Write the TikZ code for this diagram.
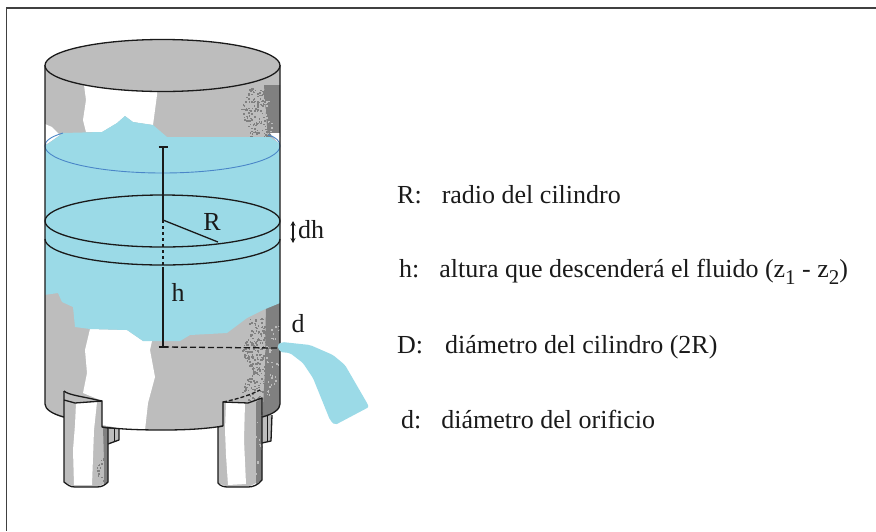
\documentclass[tikz,border=0pt]{standalone}
\usepackage{fontspec}
\setmainfont{Liberation Serif}
\usetikzlibrary{arrows.meta}
\definecolor{tankgray}{HTML}{BDBDBD}
\definecolor{tankdark}{HTML}{808080}
\definecolor{tankwater}{HTML}{9BDAE7}
\definecolor{waterline}{HTML}{4A86C8}
\definecolor{inkline}{HTML}{1A1A1A}
\tikzset{
  outline/.style={draw=inkline,line width=1.3pt,line join=round},
  legend/.style={anchor=base west,inner sep=0pt,font=\fontsize{26}{30}\selectfont,text=inkline},
  mark label/.style={anchor=base,inner sep=0pt,font=\fontsize{26}{30}\selectfont,text=inkline},
  frame line/.style={draw=black!75,line width=1.2pt},
}
\newcommand{\lowdigit}[1]{\raisebox{-7pt}{\fontsize{21}{21}\selectfont #1}}
\newcommand{\speckle}[5]{% x0 x1 y0 y1 count
  \foreach \n in {1,...,#5}{
    \pgfmathsetmacro{\sy}{#3+rnd*(#4-#3)}
    \pgfmathsetmacro{\sx}{#1+rnd*(#2-#1)+4*sin(\sy*9)}
    \fill[tankgray] (\sx,\sy) rectangle ++(1.6,1.6);
  }
}
\newcommand{\darkspeckle}[5]{%
  \foreach \n in {1,...,#5}{
    \pgfmathsetmacro{\sy}{#3+rnd*(#4-#3)}
    \pgfmathsetmacro{\sx}{#1+rnd*(#2-#1)+4*sin(\sy*9)}
    \fill[tankdark] (\sx,\sy) rectangle ++(1.6,1.6);
  }
}
\begin{document}
\begin{tikzpicture}[x=1pt,y=-1pt]
\pgfmathsetseed{7}
\useasboundingbox (0,0) rectangle (876,531);
\fill[white] (0,0) rectangle (876,531);
\coordinate (fTL) at (6.5,8);
\coordinate (fTR) at (876,8);
\coordinate (fBL) at (6.5,531);
\draw[frame line] (fTR) -- (fTL) -- (fBL);

% back legs
\fill[tankgray] (108,428) -- (119,428) -- (119,440) -- (108,444) -- cycle;
\fill[tankgray] (262,415) -- (272,415) -- (271,441) -- (262,443) -- cycle;
\draw[outline] (108,428) -- (119,428) -- (119,440) -- (108,444);
\draw[outline,line width=.6pt] (114,428) -- (114,441);
\draw[outline] (272,415) -- (271,441) -- (262,443);
\draw[outline,line width=.6pt] (267,416) -- (267,441);

% body
\begin{scope}
\clip (45,65) -- (45,404) arc[start angle=180,end angle=360,x radius=117.5pt,y radius=26pt] -- (280,65) -- cycle;
\fill[tankgray] (40,30) rectangle (285,440);
% dark shading
\fill[tankdark] (264,85) -- (285,85) -- (285,137) -- (268,137) -- (266,115) -- cycle;
\fill[tankdark] (266,300) -- (285,300) -- (285,425) -- (262,425) -- (265,370) -- cycle;
\darkspeckle{244}{266}{88}{137}{150}
\darkspeckle{246}{266}{318}{405}{260}
\speckle{266}{276}{322}{395}{40}
\speckle{264}{270}{95}{135}{25}
% white patches
\fill[white] (84,85) -- (86,100) -- (83,120) -- (86,132) -- (102,132) -- (117,123) -- (125,116) -- (133,122) -- (153,125) -- (157,95) -- (157,85) -- cycle;
\fill[white] (45,124) -- (52,127) -- (60,135) -- (50,142) -- (45,145) -- cycle;
\fill[white] (270,133) -- (280,133) -- (280,145) -- cycle;
\fill[white] (90,329) -- (85,350) -- (87,373) -- (83,393) -- (100,400) -- (102,425) -- (130,430) -- (145,430) -- (148,403) -- (155,377) -- (150,350) -- (152,341) -- (143,341) -- (127,330) -- cycle;
% water
\fill[tankwater] (45,146) -- (63,133) -- (102,132) -- (117,123) -- (125,116) -- (133,122) -- (153,125) -- (167,137) -- (270,137) -- (280,144) -- (280,303) -- (263,310) -- (247,318) -- (227,333) -- (190,335) -- (180,341) -- (143,341) -- (127,330) -- (90,329) -- (75,327) -- (73,307) -- (62,302) -- (58,293) -- (44,295) -- cycle;
\end{scope}
\draw[waterline,line width=.9pt] (63,133) .. controls (50,137) and (45,141) .. (45,146) arc[start angle=180,end angle=360,x radius=117.5pt,y radius=27pt] .. controls (280,141) and (276,137) .. (268,135);

% body outline
\draw[outline] (45,65) -- (45,404) .. controls (45,409) and (52,414) .. (64,417);
\draw[outline] (280,65) -- (280,404) .. controls (280,409) and (274,414) .. (262,417);
\draw[outline] (102,427) .. controls (120,429) and (135,430) .. (163,430) .. controls (185,430) and (205,429) .. (223,426);
\fill[tankgray,draw=inkline,line width=1.3pt] (162.5,65.5) ellipse [x radius=117.5pt,y radius=26pt];

% circles
\draw[outline] (162.5,221) ellipse [x radius=117.5pt,y radius=26pt];
\draw[outline] (45,239) arc[start angle=180,end angle=360,x radius=117.5pt,y radius=26pt];

% front legs
\fill[tankgray] (64,391) -- (97,400) -- (102,401) -- (102,427) -- (108,428) -- (108,482) -- (97,487) -- (75,487) -- (64,482) -- cycle;
\fill[white] (76,403) -- (97,402) -- (94,430) -- (92,485) -- (74,485) -- (73,450) -- (75,425) -- cycle;
\fill[tankdark] (103,428) -- (108,428) -- (108,482) -- (104,484) -- (104,460) -- cycle;
\darkspeckle{100}{104}{455}{480}{20}
\fill[tankgray] (218,427) -- (223,426) -- (223,402) -- (248,403) -- (262,398) -- (262,480) -- (248,487) -- (228,487) -- (218,483) -- cycle;
\fill[white] (226,403) -- (245,403) -- (244,440) -- (246,484) -- (228,485) -- (226,455) -- (225,430) -- cycle;
\fill[tankdark] (256,402) -- (262,398) -- (262,480) -- (256,484) -- cycle;
\speckle{256}{259}{410}{478}{22}
% left leg outline
\draw[outline] (64,391) -- (64,482) .. controls (68,485) and (70,487) .. (75,487) -- (97,487) .. controls (102,487) and (105,485) .. (108,482) -- (108,428) -- (102,427) -- (102,401) -- (75,403) -- (64,400);
\draw[outline] (64,391) .. controls (68,395) and (85,397) .. (97,400) -- (102,401);
% right leg outline
\draw[outline] (218,427) -- (223,426) -- (223,402) -- (248,403) -- (262,398) -- (262,480) .. controls (258,485) and (253,487) .. (248,487) -- (228,487) .. controls (224,487) and (220,486) .. (218,483) -- cycle;
\draw[outline,dashed,dash pattern=on 4pt off 2pt] (223,402) .. controls (238,399) and (250,395) .. (260,390);

% dimension lines
\coordinate (hTop) at (163,147);
\coordinate (hCentre) at (163,220);
\coordinate (hMid) at (163,267);
\coordinate (hBot) at (163,347);
\coordinate (hEnd) at (277,348);
\coordinate (rEnd) at (218,242);
\draw[draw=inkline,line width=2.2pt] (158.5,147) -- (167.5,147);
\draw[draw=inkline,line width=2.2pt] (158.5,347) -- (167.5,347);
\draw[outline] (hTop) -- (hCentre);
\draw[outline,dashed,dash pattern=on 3pt off 3pt] (hCentre) -- (hMid);
\draw[outline] (hMid) -- (hBot);
\draw[outline,dashed,dash pattern=on 6pt off 3pt] (hBot) -- (hEnd);
\draw[outline] (hCentre) -- (rEnd);

% stream
\fill[tankwater,rounded corners=2pt] (277,345) -- (282,342) -- (310,345) -- (333,355) -- (345,365) -- (367,403) -- (369,407) -- (335,425) -- (330,420) -- (313,378) -- (303,363) -- (290,353) -- (280,352) -- cycle;

% dh arrow
\coordinate (dhA) at (293,221);
\coordinate (dhB) at (293,243);
\draw[inkline,line width=1.2pt,{Stealth[length=5pt,width=5pt]}-{Stealth[length=5pt,width=5pt]}] (dhA) -- (dhB);

% labels
\node[mark label] (lblR) at (212,230) {R};
\node[mark label] (lbldh) at (311,238) {dh};
\node[mark label] (lblh) at (178,301) {h};
\node[mark label] (lbld) at (298,332) {d};

% legend
\node[legend] (legR) at (397,203) {R:\hspace{20pt}radio del cilindro};
\node[legend] (legh) at (399,277) {h:\hspace{20pt}altura que descenderá el fluido (z\lowdigit{1} - z\lowdigit{2})};
\node[legend] (legD) at (397,353) {D:\hspace{22pt}diámetro del cilindro (2R)};
\node[legend] (legd) at (401,428) {d:\hspace{20pt}diámetro del orificio};
\end{tikzpicture}
\end{document}
